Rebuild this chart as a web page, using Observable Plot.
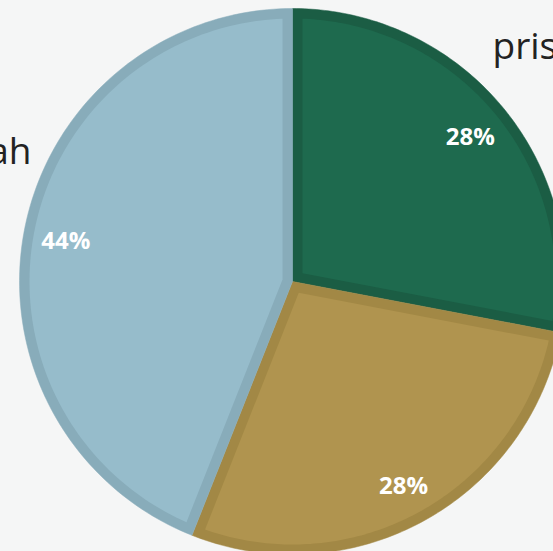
<!DOCTYPE html>
<html><head><meta charset="utf-8">
<script src="https://cdn.jsdelivr.net/npm/d3@7"></script>
<script src="https://cdn.jsdelivr.net/npm/@observablehq/plot@0.6"></script>
<style>
html,body{margin:0;padding:0;background:#f5f6f6;overflow:hidden}
</style>
</head><body>
<div id="chart"></div>
<script>
const categories = ["pris", "", "ah"];
const values = [28, 28, 44];
const percentLabels = ["28%", "28%", "44%"];
const fillColors = ["#1e6a4e", "#b0944f", "#96bccb"];
const borderColors = ["#1b5d44", "#a28845", "#88acba"];

const W = 553, H = 551;
const cx = 292, cy = 281, R = 273, border = 10;

const pie = d3.pie().sort(null).value(d => d)(values);

function wedge(a0, a1, r, inset) {
  const pts = [];
  const half = (a1 - a0) / 2;
  const mid = (a0 + a1) / 2;
  const apexDist = inset > 0 ? inset / Math.sin(Math.min(half, Math.PI / 2)) : 0;
  const rr = r - inset;
  const d0 = inset > 0 ? Math.asin(inset / rr) : 0;
  const toXY = (ang, rad) => [cx + rad * Math.sin(ang), cy - rad * Math.cos(ang)];
  pts.push(toXY(mid, apexDist));
  const s = a0 + d0, e = a1 - d0, n = 120;
  for (let i = 0; i <= n; i++) pts.push(toXY(s + (e - s) * i / n, rr));
  pts.push(toXY(mid, apexDist));
  return pts;
}

const outer = [], inner = [];
pie.forEach((p, i) => {
  wedge(p.startAngle, p.endAngle, R, 0).forEach(([x, y]) => outer.push({x, y, k: i}));
  wedge(p.startAngle, p.endAngle, R, border).forEach(([x, y]) => inner.push({x, y, k: i}));
});

const labelPts = pie.map((p, i) => {
  const a = (p.startAngle + p.endAngle) / 2;
  const rr = R * 0.845;
  return {x: cx + rr * Math.sin(a), y: cy + 3 - rr * Math.cos(a), t: percentLabels[i]};
});

const outerLabels = [
  {x: 492, y: 47, t: categories[0], a: "start"},
  {x: 31, y: 152, t: categories[2], a: "end"}
];

const chart = Plot.plot({
  width: W, height: H,
  margin: 0,
  x: {domain: [0, W], range: [0, W], axis: null},
  y: {domain: [0, H], range: [0, H], axis: null},
  style: {background: "#f5f6f6", fontFamily: "'Open Sans', sans-serif", overflow: "hidden"},
  marks: [
    Plot.line(outer, {x: "x", y: "y", z: "k", fill: d => borderColors[d.k], stroke: d => borderColors[d.k], strokeWidth: 0.5, curve: "linear"}),
    Plot.line(inner, {x: "x", y: "y", z: "k", fill: d => fillColors[d.k], stroke: "none", curve: "linear"}),
    Plot.text(labelPts, {x: "x", y: "y", text: "t", fill: "white", fontSize: 24, fontWeight: "bold"}),
    Plot.text(outerLabels, {x: "x", y: "y", text: "t", textAnchor: "start", fill: "#222", fontSize: 37, filter: d => d.a === "start"}),
    Plot.text(outerLabels, {x: "x", y: "y", text: "t", textAnchor: "end", fill: "#222", fontSize: 37, filter: d => d.a === "end"})
  ]
});
document.getElementById("chart").appendChild(chart);
</script>
</body></html>
